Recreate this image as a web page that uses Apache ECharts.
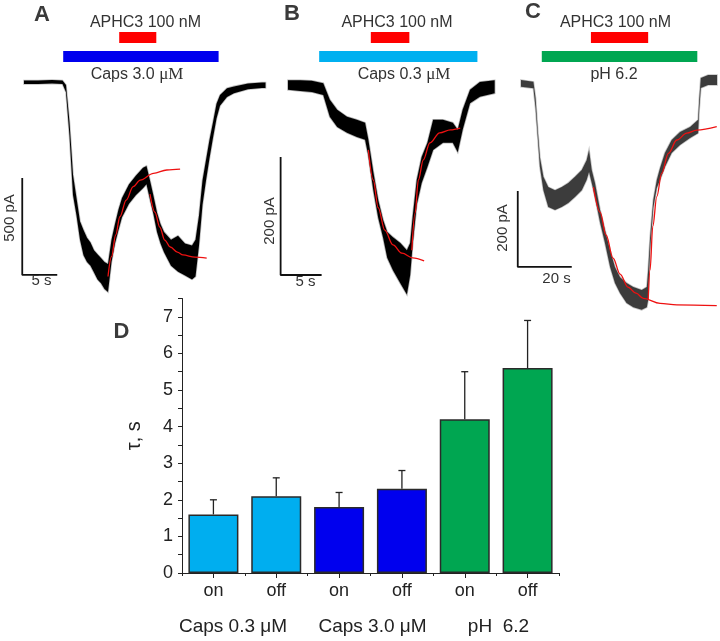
<!DOCTYPE html>
<html><head><meta charset="utf-8">
<script src="https://cdn.jsdelivr.net/npm/echarts@6/dist/echarts.min.js"></script>
<style>html,body{margin:0;padding:0;background:#fff}#c{width:720px;height:641px}</style>
</head><body><div id="c"></div>
<script>
// ================= DATA =================
// Panel A (Caps 3.0 uM) current trace, time (s) and noise envelope (pA)
const traceA_t  = [0,2,4,5.5,6,6.5,7,7.5,8,8.5,9,9.5,10,10.5,11,11.5,12,12.5,13,13.5,14,15,16,17,17.5,18,18.5,19,19.5,20,21,22,23,24,24.5,25,25.5,26,26.5,27,27.5,28,29,30,32,34,34.5];
const traceA_hi = [10,10,13,10,-13,-205,-475,-595,-715,-760,-800,-825,-865,-885,-905,-925,-935,-810,-730,-655,-595,-525,-480,-440,-430,-505,-585,-670,-730,-770,-810,-790,-830,-840,-810,-685,-505,-400,-295,-205,-110,-65,-30,-20,-5,0,0];
const traceA_lo = [-8,-8,-5,-8,-50,-275,-580,-685,-810,-890,-925,-945,-980,-1015,-1035,-1065,-1080,-925,-830,-760,-695,-625,-580,-545,-525,-605,-680,-770,-830,-875,-945,-975,-995,-1015,-1000,-840,-630,-505,-390,-285,-185,-120,-75,-55,-35,-28,-28];
const fitA_on_t  = [12.0,12.5,13.1,13.7,14.6,15.6,16.6,18.5,20.4,22.3];
const fitA_on_I  = [-1000,-898,-786,-692,-606,-537,-503,-468,-451,-447];
const fitA_off_t = [18.0,18.7,19.4,20.1,20.9,21.9,22.7,24.4,26.1];
const fitA_off_I = [-575,-668,-745,-812,-848,-874,-889,-900,-905];

// Panel B (Caps 0.3 uM)
const traceB_t  = [0,1.5,2.9,4.3,5.1,6,7.2,8.4,9.4,9.8,10.4,11,11.6,12.1,12.8,13.7,14.5,14.9,15.2,15.7,16.3,17,17.7,18.9,20.1,20.7,21.3,22.2,23.4,25.2];
const traceB_hi = [8,8,7,3,-25,-42,-54,-59,-64,-93,-147,-195,-229,-249,-258,-268,-280,-268,-224,-161,-122,-98,-59,-59,-64,-76,-42,-8,5,8];
const traceB_lo = [-8,-10,-12,-17,-54,-71,-81,-88,-93,-120,-178,-225,-259,-293,-314,-336,-355,-322,-271,-203,-166,-139,-110,-98,-98,-114,-76,-31,-20,-14];
const fitB_on_t  = [9.8,10.4,11.0,11.8,12.8,13.9,15.2,16.6];
const fitB_on_I  = [-110,-161,-208,-246,-271,-285,-293,-298];
const fitB_off_t = [15.1,15.5,15.9,16.5,17.3,18.5,19.8,21.0];
const fitB_off_I = [-280,-217,-161,-127,-98,-81,-76,-73];

// Panel C (pH 6.2)
const traceC_t  = [0,4.6,5.4,6.2,7,8.3,10.1,12.6,15.1,17.5,20,22.5,24.3,25.2,26.2,27.4,29.3,31.1,33,34.8,36.7,39.1,41.6,44.7,46.6,47.1,47.8,49,50.3,51.5,53.3,55.8,58.9,62.6,65.6,66,66.6,69.3,72.6];
const traceC_hi = [8,3,-40,-124,-195,-247,-274,-282,-274,-263,-247,-229,-203,-176,-229,-263,-334,-387,-440,-484,-511,-526,-537,-545,-537,-492,-408,-308,-255,-224,-184,-150,-129,-116,-97,-45,13,21,21];
const traceC_lo = [-10,-14,-66,-142,-221,-282,-326,-334,-326,-316,-300,-282,-255,-234,-263,-300,-368,-421,-484,-526,-553,-579,-590,-597,-590,-571,-440,-329,-276,-255,-221,-184,-163,-145,-132,-71,-13,-5,-5];
const fitC_on_t  = [26.8,29.3,31.5,34.1,36.7,39.6,42.6,45.3,51.5,57.7,72.5];
const fitC_on_I  = [-274,-340,-400,-461,-503,-537,-553,-567,-580,-584,-586];
const fitC_off_t = [47.1,47.8,48.8,50.3,52.1,54.6,57.7,61.4,65.1,72.5];
const fitC_off_I = [-571,-492,-378,-299,-238,-185,-150,-132,-124,-115];

// application intervals (s)
const agonistA = [5.6, 27.8], aphcA = [13.6, 18.9];
const agonistB = [3.8, 23.1], aphcB = [10.1, 14.8];
const agonistC = [7.7, 65.3], aphcC = [25.9, 47.1];

// scale bars: length in s and pA
const scaleA = {dt:5, dI:500}, scaleB = {dt:5, dI:200}, scaleC = {dt:20, dI:200};

// Panel D bar chart
const barCategories = ['on','off','on','off','on','off'];
const groupLabels = ['Caps 0.3 μM','Caps 3.0 μM','pH  6.2'];
const tauMean = [1.6, 2.1, 1.8, 2.3, 4.2, 5.6];
const tauErr  = [0.4, 0.5, 0.4, 0.5, 1.3, 1.3];

// ================= STYLE / LAYOUT =================
const SANS = 'Liberation Sans, Arial, sans-serif';
const SERIF = 'Liberation Serif, Times New Roman, serif';
const barColors = ['#00AEEF','#00AEEF','#0000EE','#0000EE','#00A651','#00A651'];
const panels = [
  {ox:24,  oy:82.5, sx:7,   sy:0.194, xr:[-2,36], yr:[-1150,100], agoColor:'#0000EE', trace:'#000', halo:'rgba(0,0,0,0.25)', sbT:-0.25, sbI:-992},
  {ox:288, oy:85,   sx:8.2, sy:0.59,  xr:[-2,26], yr:[-370,30],   agoColor:'#00B0F0', trace:'#000', halo:'rgba(0,0,0,0.3)', sbT:-0.9, sbI:-322},
  {ox:521, oy:83,   sx:2.7, sy:0.38,  xr:[-2,73], yr:[-620,50],   agoColor:'#00A651', trace:'#3c3c3c', halo:'rgba(60,60,60,0.3)', sbT:-1.2, sbI:-484}
];
const traces = [
  {t:traceA_t, hi:traceA_hi, lo:traceA_lo, fits:[[fitA_on_t,fitA_on_I],[fitA_off_t,fitA_off_I]], ago:agonistA, aphc:aphcA, sc:scaleA},
  {t:traceB_t, hi:traceB_hi, lo:traceB_lo, fits:[[fitB_on_t,fitB_on_I],[fitB_off_t,fitB_off_I]], ago:agonistB, aphc:aphcB, sc:scaleB},
  {t:traceC_t, hi:traceC_hi, lo:traceC_lo, fits:[[fitC_on_t,fitC_on_I],[fitC_off_t,fitC_off_I]], ago:agonistC, aphc:aphcC, sc:scaleC}
];

const grid = panels.map(p => ({
  left: p.ox + p.xr[0]*p.sx, top: p.oy - p.yr[1]*p.sy,
  width: (p.xr[1]-p.xr[0])*p.sx, height: (p.yr[1]-p.yr[0])*p.sy,
  outerBoundsMode:'none', containLabel:false
}));
grid.push({left:182, top:298.5, width:377, height:274.5, outerBoundsMode:'none', containLabel:false});

const xAxis = panels.map((p,i)=>({type:'value', gridIndex:i, min:p.xr[0], max:p.xr[1], show:false}));
const yAxis = panels.map((p,i)=>({type:'value', gridIndex:i, min:p.yr[0], max:p.yr[1], show:false}));

xAxis.push({
  type:'category', gridIndex:3, position:'bottom', data:barCategories,
  axisLine:{show:true, lineStyle:{color:'#222', width:1}},
  axisTick:{show:true, alignWithLabel:true, length:5, lineStyle:{color:'#222'}},
  axisLabel:{fontSize:18, color:'#222', margin:9, fontFamily:SANS},
  splitLine:{show:false}
});
xAxis.push({
  type:'category', gridIndex:3, position:'bottom', offset:0, data:barCategories,
  axisLine:{show:false}, axisTick:{show:true, length:3, lineStyle:{color:'#222'}},
  axisLabel:{show:false}, splitLine:{show:false}
});
yAxis.push({
  type:'value', gridIndex:3, min:0, max:7.5, interval:0.5,
  axisLine:{show:true, lineStyle:{color:'#222', width:1}},
  axisTick:{show:true, length:4, lineStyle:{color:'#222'}},
  axisLabel:{fontSize:18, color:'#222', margin:9, fontFamily:SANS,
    formatter: v => (Math.abs(v - Math.round(v)) < 1e-6 ? String(Math.round(v)) : '')},
  splitLine:{show:false},
  name:'τ, s', nameLocation:'middle', nameGap:38, nameRotate:90,
  nameTextStyle:{fontSize:20, color:'#222', fontFamily:SANS}
});

const series = [];
traces.forEach((tr, gi) => {
  const p = panels[gi];
  series.push({
    type:'custom', xAxisIndex:gi, yAxisIndex:gi, clip:false, silent:true, z:3,
    data: tr.t.map((v,i)=>[v, tr.hi[i], tr.lo[i]]),
    renderItem(params, api){
      if (params.dataIndex !== 0) return null;
      const pts = [];
      for (let i=0;i<tr.t.length;i++) pts.push(api.coord([tr.t[i], tr.hi[i]]));
      for (let i=tr.t.length-1;i>=0;i--) pts.push(api.coord([tr.t[i], tr.lo[i]]));
      return {type:'polygon', shape:{points:pts, smooth:0}, style:{fill:p.trace, stroke:p.halo, lineWidth:1.6}};
    }
  });
  tr.fits.forEach(f => {
    series.push({
      type:'line', xAxisIndex:gi, yAxisIndex:gi, z:5, silent:true,
      data: f[0].map((t,i)=>[t, f[1][i]]), showSymbol:false, symbol:'none',
      smooth:0.35, smoothMonotone:'x',
      lineStyle:{color:'#EE1111', width:1.3}
    });
  });
  const appBars = [{iv:tr.ago, y:51, h:11, c:p.agoColor}, {iv:tr.aphc, y:32, h:11, c:'#FF0000'}];
  series.push({
    type:'custom', xAxisIndex:gi, yAxisIndex:gi, clip:false, silent:true, z:4,
    data: appBars.map(b=>[b.iv[0], b.iv[1]]),
    renderItem(params, api){
      const b = appBars[params.dataIndex];
      const x0 = api.coord([api.value(0), 0])[0];
      const x1 = api.coord([api.value(1), 0])[0];
      return {type:'rect', shape:{x:x0, y:b.y, width:x1-x0, height:b.h}, style:{fill:b.c}};
    }
  });
  series.push({
    type:'line', xAxisIndex:gi, yAxisIndex:gi, z:4, silent:true, showSymbol:false, symbol:'none',
    data:[[p.sbT, p.sbI + tr.sc.dI],[p.sbT, p.sbI],[p.sbT + tr.sc.dt, p.sbI]],
    lineStyle:{color:'#111', width:1.8}
  });
});

series.push({
  type:'bar', xAxisIndex:3, yAxisIndex:3, barWidth:50, z:2, silent:true,
  data: tauMean.map((v,i)=>({value:v, itemStyle:{color:barColors[i]}})),
  itemStyle:{borderColor:'#2a2a2a', borderWidth:1.5}
});
series.push({
  type:'custom', xAxisIndex:3, yAxisIndex:3, z:3, silent:true,
  data: tauMean.map((v,i)=>[i, v, v + tauErr[i]]),
  renderItem(params, api){
    const a = api.coord([api.value(0), api.value(1)]);
    const b = api.coord([api.value(0), api.value(2)]);
    return {type:'group', children:[
      {type:'line', shape:{x1:a[0], y1:a[1], x2:b[0], y2:b[1]}, style:{stroke:'#222', lineWidth:1.3}},
      {type:'line', shape:{x1:b[0]-3.5, y1:b[1], x2:b[0]+3.5, y2:b[1]}, style:{stroke:'#222', lineWidth:1.3}}
    ]};
  }
});

function txt(x, y, text, size, opts={}){
  return Object.assign({
    type:'text', x, y, silent:true, z:10,
    style:Object.assign({text, fill:opts.fill||'#333', fontSize:size, fontFamily:SANS, fontWeight:opts.bold?'bold':'normal',
      align:'center', verticalAlign:'middle', textAlign:'center', textVerticalAlign:'middle'}, opts.style||{})
  }, opts.el||{});
}
function richTxt(x, y, a, b, size){
  return {type:'text', x, y, silent:true, z:10, style:{
    text:'{a|' + a + '}{b|' + b + '}', align:'center', verticalAlign:'middle', textAlign:'center', textVerticalAlign:'middle',
    rich:{a:{fontSize:size, fontFamily:SANS, fill:'#333'}, b:{fontSize:size+1, fontFamily:SERIF, fill:'#333'}}
  }};
}
const graphic = [
  txt(42, 14.5, 'A', 22, {bold:true, fill:'#3a3a3a'}),
  txt(292, 14, 'B', 22, {bold:true, fill:'#3a3a3a'}),
  txt(533, 12, 'C', 22, {bold:true, fill:'#3a3a3a'}),
  txt(121.5, 331.5, 'D', 22, {bold:true, fill:'#3a3a3a'}),
  txt(145.5, 22.5, 'APHC3 100 nM', 16),
  txt(397, 22.5, 'APHC3 100 nM', 16),
  txt(615.5, 22.5, 'APHC3 100 nM', 16),
  richTxt(137, 75, 'Caps 3.0 ', 'μM', 16),
  richTxt(404, 75, 'Caps 0.3 ', 'μM', 16),
  txt(614, 75, 'pH 6.2', 16),
  txt(10, 218, scaleA.dI + ' pA', 15, {el:{rotation:Math.PI/2}}),
  txt(41.5, 281, scaleA.dt + ' s', 15),
  txt(270, 221, scaleB.dI + ' pA', 15, {el:{rotation:Math.PI/2}}),
  txt(305.5, 282, scaleB.dt + ' s', 15),
  txt(502.5, 228, scaleC.dI + ' pA', 15, {el:{rotation:Math.PI/2}}),
  txt(556.5, 279, scaleC.dt + ' s', 15),
  txt(233, 627, groupLabels[0], 19, {fill:'#222'}),
  txt(372.5, 627, groupLabels[1], 19, {fill:'#222'}),
  txt(498.5, 627, groupLabels[2], 19, {fill:'#222'})
];

const chart = echarts.init(document.getElementById('c'), null, {renderer:'canvas', width:720, height:641});
chart.setOption({
  backgroundColor:'#fff', animation:false,
  grid, xAxis, yAxis, series, graphic
});
</script>
</body></html>
